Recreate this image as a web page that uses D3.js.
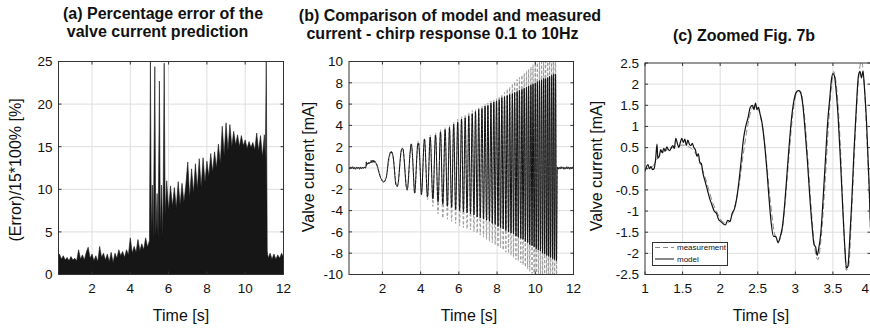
<!DOCTYPE html>
<html><head><meta charset="utf-8">
<script src="https://cdn.jsdelivr.net/npm/d3@7"></script>
<style>body{margin:0;background:#fff}svg{display:block;font-family:"Liberation Sans",Arial,Helvetica,sans-serif}</style>
</head><body><svg id="chart" width="870" height="330"></svg>
<script>
// ---------- Panel (a): percentage error ----------
const errTime = [
0.25,0.3,0.4,0.5,0.6,0.7,0.8,0.9,1.0,1.1,
1.2,1.3,1.4,1.5,1.6,1.7,1.8,1.9,2.0,2.1,
2.2,2.3,2.4,2.5,2.6,2.7,2.8,2.9,3.0,3.1,
3.2,3.3,3.4,3.5,3.6,3.7,3.8,3.9,4.0,4.1,
4.2,4.3,4.4,4.5,4.6,4.7,4.8,4.9,5.0,5.05,
5.1,5.15,5.2,5.28,5.33,5.4,5.45,5.52,5.57,5.63,
5.7,5.77,5.82,5.9,6.0,6.1,6.2,6.3,6.4,6.5,
6.6,6.7,6.8,6.9,7.0,7.1,7.2,7.3,7.4,7.5,
7.6,7.7,7.8,7.9,8.0,8.1,8.2,8.3,8.4,8.5,
8.6,8.7,8.8,8.9,9.0,9.1,9.2,9.3,9.4,9.5,
9.6,9.7,9.8,9.9,10.0,10.1,10.2,10.3,10.4,10.5,
10.6,10.7,10.8,10.9,11.0,11.05,11.1,11.15,11.2,11.3,
11.4,11.5,11.6,11.7,11.8,11.9,12.0];
const errPct = [
2.2,2.4,1.8,2.2,1.7,2.0,1.6,2.1,1.7,1.9,
1.6,2.9,1.8,2.3,1.7,2.6,3.2,1.9,2.4,1.6,
2.2,1.5,3.3,2.0,2.5,1.7,2.4,1.5,2.6,1.4,
2.5,1.9,2.9,2.2,2.7,2.0,2.9,2.3,4.3,2.5,
3.3,2.6,4.1,2.8,3.6,2.9,4.3,3.2,4.0,25,
4.5,10.5,4.0,24.4,4.5,9.5,4.2,22.7,5.0,10.5,
4.5,24.8,7.0,11.0,7.5,10.4,8.0,10.2,7.8,10.9,
8.2,10.7,8.5,10.5,13.2,9.0,12.4,9.5,13.0,10.0,
13.6,10.2,13.7,10.8,13.3,11.5,14.2,12.0,14.4,12.5,
15.3,13.0,17.4,14.0,17.8,14.5,17.6,15.0,16.8,15.2,
16.4,15.0,16.3,15.1,15.8,14.8,15.6,14.9,15.5,14.6,
16.6,14.5,16.3,13.8,16.4,13.5,25,2.8,1.9,2.5,
1.8,2.4,1.8,2.3,1.9,2.5,2.0];

// ---------- Panels (b), (c): valve current ----------
// flat part before the chirp
const baseTime = [0.25,0.3,0.35,0.4,0.45,0.5,0.55,0.6,0.65,0.7,0.75,0.8,0.85,0.9,0.95];
const baseModel = [0.05,-0.1,0.1,-0.05,0.12,-0.1,0.05,-0.12,0.1,-0.05,0.08,-0.12,0.1,-0.08,0.06];
const baseMeas = [0.03,-0.04,0.04,-0.03,0.05,-0.04,0.03,-0.05,0.04,-0.03,0.04,-0.05,0.04,-0.03,0.02];
// detailed model trace 1-4 s
const zoomTime = [
1.00,1.02,1.04,1.06,1.08,1.10,1.12,1.14,1.16,1.17,
1.19,1.21,1.23,1.25,1.27,1.29,1.31,1.33,1.35,1.37,
1.39,1.41,1.43,1.45,1.47,1.49,1.51,1.53,1.55,1.57,
1.59,1.61,1.63,1.65,1.67,1.69,1.71,1.73,1.75,1.77,
1.80,1.83,1.86,1.89,1.92,1.95,1.98,2.01,2.04,2.07,
2.10,2.13,2.16,2.19,2.22,2.25,2.28,2.31,2.34,2.37,
2.40,2.43,2.45,2.47,2.49,2.51,2.53,2.56,2.59,2.62,
2.65,2.68,2.71,2.74,2.77,2.80,2.83,2.86,2.89,2.92,
2.95,2.98,3.01,3.04,3.07,3.10,3.13,3.16,3.19,3.22,
3.25,3.27,3.29,3.31,3.34,3.37,3.40,3.43,3.46,3.48,
3.50,3.52,3.54,3.57,3.60,3.63,3.66,3.68,3.70,3.72,
3.75,3.78,3.81,3.84,3.86,3.88,3.90,3.92,3.95,3.98,
4.00];
const zoomModel = [
-0.05,0.05,0.1,0.0,0.05,-0.02,0.0,0.2,0.58,0.25,
0.3,0.45,0.38,0.48,0.42,0.52,0.45,0.43,0.5,0.55,
0.48,0.72,0.6,0.5,0.62,0.72,0.62,0.7,0.55,0.68,
0.58,0.55,0.6,0.5,0.45,0.3,0.35,0.15,0.12,-0.1,
-0.3,-0.5,-0.7,-0.85,-1.0,-1.05,-1.2,-1.25,-1.3,-1.33,
-1.22,-1.25,-1.05,-0.95,-0.7,-0.3,0.2,0.7,1.0,1.2,
1.45,1.5,1.4,1.55,1.4,1.45,1.3,1.05,0.6,0.0,
-0.7,-1.3,-1.6,-1.6,-1.75,-1.6,-1.35,-0.8,-0.1,0.6,
1.2,1.6,1.8,1.85,1.8,1.5,0.9,0.2,-0.6,-1.3,
-1.8,-1.85,-2.05,-1.9,-1.5,-0.7,0.2,1.1,1.7,2.1,
2.25,2.2,1.9,1.2,0.2,-0.9,-1.9,-2.35,-2.3,-1.8,
-0.8,0.4,1.4,2.2,2.3,2.15,2.3,1.9,1.0,-0.3,
-1.4];
// detailed measurement trace 1-4 s
const measZoomTime = [
1.00,1.05,1.10,1.15,1.20,1.25,1.30,1.40,1.50,1.60,
1.65,1.70,1.75,1.80,1.85,1.90,1.95,2.00,2.05,2.10,
2.15,2.20,2.25,2.30,2.35,2.40,2.46,2.52,2.57,2.62,
2.67,2.72,2.77,2.82,2.87,2.92,2.97,3.02,3.06,3.11,
3.16,3.21,3.26,3.30,3.34,3.39,3.44,3.48,3.51,3.55,
3.60,3.64,3.68,3.71,3.75,3.80,3.84,3.88,3.92,3.96,
4.00];
const measZoomValue = [
0.0,0.02,0.05,0.2,0.32,0.4,0.45,0.52,0.56,0.5,
0.42,0.28,0.05,-0.2,-0.5,-0.8,-1.0,-1.18,-1.27,-1.28,
-1.15,-0.85,-0.4,0.25,0.85,1.3,1.5,1.35,0.9,0.1,
-0.8,-1.5,-1.72,-1.5,-0.7,0.4,1.35,1.8,1.85,1.45,
0.4,-0.9,-1.9,-2.15,-1.7,-0.5,1.0,1.95,2.3,1.9,
0.5,-1.2,-2.4,-2.3,-1.0,0.9,2.1,2.55,1.9,0.4,
-1.3];
const peakTime = [
4.04,4.20,4.36,4.50,4.64,4.78,4.91,5.04,5.16,5.28,
5.40,5.51,5.62,5.73,5.83,5.94,6.04,6.14,6.24,6.33,
6.43,6.52,6.61,6.70,6.79,6.87,6.96,7.04,7.12,7.21,
7.29,7.37,7.45,7.52,7.60,7.68,7.75,7.83,7.90,7.97,
8.05,8.11,8.18,8.25,8.32,8.39,8.46,8.53,8.60,8.66,
8.73,8.80,8.86,8.92,8.99,9.05,9.11,9.17,9.24,9.30,
9.36,9.42,9.48,9.54,9.60,9.65,9.71,9.77,9.83,9.88,
9.94,10.00,10.05,10.11,10.16,10.22,10.27,10.33,10.38,10.44,
10.49,10.54,10.60,10.65,10.70,10.75,10.80,10.86,10.91,10.96,
11.01,11.06,11.11];
const peakModel = [
-2.5,2.7,-2.7,2.9,-2.9,3.1,-3.2,3.4,-3.4,3.6,
-3.6,3.8,-3.7,4.1,-3.9,4.3,-4.0,4.6,-4.1,4.7,
-4.2,4.9,-4.3,5.1,-4.4,5.3,-4.6,5.5,-4.7,5.6,
-4.8,5.8,-4.9,5.9,-5.0,6.1,-5.2,6.2,-5.3,6.3,
-5.5,6.4,-5.6,6.6,-5.7,6.7,-5.9,6.8,-6.0,6.9,
-6.1,7.0,-6.2,7.1,-6.4,7.2,-6.5,7.3,-6.6,7.4,
-6.7,7.5,-6.9,7.6,-7.0,7.7,-7.2,7.8,-7.3,7.9,
-7.4,8.0,-7.6,8.1,-7.7,8.2,-7.8,8.3,-8.0,8.4,
-8.1,8.4,-8.2,8.5,-8.3,8.6,-8.4,8.7,-8.5,8.8,
-8.6,8.8,-8.7];
const peakMeas = [
-2.5,2.8,-3.0,3.1,-3.6,3.3,-4.3,3.6,-4.7,3.8,
-4.8,4.0,-5.0,4.3,-5.2,4.6,-5.4,4.8,-5.6,5.0,
-5.7,5.2,-5.8,5.4,-6.0,5.5,-6.1,5.7,-6.3,5.8,
-6.5,6.0,-6.7,6.1,-6.9,6.3,-7.0,6.4,-7.2,6.5,
-7.4,6.7,-7.5,6.9,-7.7,7.1,-7.9,7.4,-8.0,7.6,
-8.2,7.9,-8.4,8.1,-8.6,8.3,-8.7,8.5,-8.9,8.7,
-9.1,8.9,-9.3,9.1,-9.5,9.3,-9.7,9.5,-9.9,9.7,
-10.1,9.9,-10.3,10.1,-10.4,10.3,-10.6,10.4,-10.8,10.6,
-10.9,10.7,-11.0,10.9,-11.1,11.0,-11.2,11.1,-11.3,11.2,
-11.4,11.3,-11.4];
// flat part after the chirp
const tailTime = [11.15,11.2,11.25,11.3,11.35,11.4,11.45,11.5,11.55,11.6,11.65,11.7,11.75,11.8,11.85,11.9,11.95,12.0];
const tailModel = [0.1,-0.12,0.08,-0.1,0.12,-0.06,0.1,-0.12,0.06,-0.1,0.12,-0.08,0.1,-0.12,0.08,-0.1,0.1,-0.06];
const tailMeas = [0.04,-0.05,0.03,-0.04,0.05,-0.03,0.04,-0.05,0.03,-0.04,0.05,-0.03,0.04,-0.05,0.03,-0.04,0.04,-0.03];

// tick values
const timeTicks = [2,4,6,8,10,12];
const errTicks = [0,5,10,15,20,25];
const currentTicks = [-10,-8,-6,-4,-2,0,2,4,6,8,10];
const zoomTimeTicks = [1,1.5,2,2.5,3,3.5,4];
const zoomCurrentTicks = [-2.5,-2,-1.5,-1,-0.5,0,0.5,1,1.5,2,2.5];

// ---------- build series ----------
const zip = (ts, vs) => ts.map((t, i) => ({t, v: vs[i]}));
const errSeries = zip(errTime, errPct);
const modelSeries = [].concat(zip(baseTime, baseModel), zip(zoomTime, zoomModel), zip(peakTime, peakModel), zip(tailTime, tailModel));
const measSeries = [].concat(zip(baseTime, baseMeas), zip(measZoomTime, measZoomValue), zip(peakTime, peakMeas), zip(tailTime, tailMeas));

const W = 870;
const svg = d3.select("#chart");
const GRID = "#dedede", FRAME = "#333";

function panel(o) {
  const x = d3.scaleLinear().domain(o.xd).range([o.left, o.right]);
  const y = d3.scaleLinear().domain(o.yd).range([o.bottom, o.top]);
  const g = svg.append("g");
  // grid
  g.selectAll(".gx").data(o.xt.filter(d => d > o.xd[0] && d < o.xd[1])).enter().append("line")
    .attr("x1", d => x(d)).attr("x2", d => x(d)).attr("y1", o.top).attr("y2", o.bottom)
    .attr("stroke", GRID).attr("stroke-width", 1);
  g.selectAll(".gy").data(o.yt.filter(d => d > o.yd[0] && d < o.yd[1])).enter().append("line")
    .attr("y1", d => y(d)).attr("y2", d => y(d)).attr("x1", o.left).attr("x2", o.right)
    .attr("stroke", GRID).attr("stroke-width", 1);
  // clip
  svg.append("clipPath").attr("id", o.id).append("rect")
    .attr("x", o.left).attr("y", o.top).attr("width", o.right - o.left).attr("height", o.bottom - o.top);
  const data = g.append("g").attr("clip-path", `url(#${o.id})`);
  o.draw(data, x, y);
  // frame
  g.append("rect").attr("x", o.left).attr("y", o.top).attr("width", o.right - o.left).attr("height", o.bottom - o.top)
    .attr("fill", "none").attr("stroke", FRAME).attr("stroke-width", 1);
  // inward ticks
  const tl = 3;
  o.xt.forEach(d => {
    g.append("line").attr("x1", x(d)).attr("x2", x(d)).attr("y1", o.bottom).attr("y2", o.bottom - tl).attr("stroke", FRAME);
    g.append("line").attr("x1", x(d)).attr("x2", x(d)).attr("y1", o.top).attr("y2", o.top + tl).attr("stroke", FRAME);
  });
  o.yt.forEach(d => {
    g.append("line").attr("y1", y(d)).attr("y2", y(d)).attr("x1", o.left).attr("x2", o.left + tl).attr("stroke", FRAME);
    g.append("line").attr("y1", y(d)).attr("y2", y(d)).attr("x1", o.right).attr("x2", o.right - tl).attr("stroke", FRAME);
  });
  // tick labels (a label that would run past the page edge is right-aligned to it)
  g.selectAll(".xl").data(o.xt).enter().append("text")
    .attr("x", d => x(d) + 5 > W ? W - 1 : x(d))
    .attr("text-anchor", d => x(d) + 5 > W ? "end" : "middle")
    .attr("y", 293).attr("font-size", 13.5).attr("fill", "#111").text(d => String(d));
  g.selectAll(".yl").data(o.yt).enter().append("text")
    .attr("x", o.left - 6).attr("y", d => y(d) + 4.8).attr("text-anchor", "end")
    .attr("font-size", 13.5).attr("fill", "#111").text(d => String(d));
  // axis labels
  g.append("text").attr("x", o.xlabX).attr("y", 321).attr("text-anchor", "middle")
    .attr("font-size", 16).attr("fill", "#111").text("Time [s]");
  g.append("text").attr("transform", `translate(${o.ylabX},${o.ylabY}) rotate(-90)`)
    .attr("text-anchor", "middle").attr("font-size", 16).attr("fill", "#111").text(o.ylab);
  // title
  o.title.forEach(ln => {
    g.append("text").attr("x", ln.x).attr("y", ln.y).attr("text-anchor", "middle")
      .attr("font-size", 16).attr("font-weight", "bold").attr("fill", "#111").text(ln.s);
  });
  return {x, y, g};
}

// (a)
panel({
  id: "clipA", left: 58.5, right: 283.5, top: 61.5, bottom: 274.5,
  xd: [0.25, 12], yd: [0, 25], xt: timeTicks, yt: errTicks,
  xlabX: 181, ylabX: 20.5, ylabY: 170, ylab: "(Error)/15*100% [%]",
  title: [{s: "(a) Percentage error of the", x: 163, y: 18.5}, {s: "valve current prediction", x: 157.5, y: 36.5}],
  draw: (g, x, y) => {
    g.append("path").datum(errSeries)
      .attr("d", d3.area().x(d => x(d.t)).y0(y(0)).y1(d => y(d.v)))
      .attr("fill", "#161616").attr("stroke", "#161616").attr("stroke-width", 0.6);
  }
});

// (b)
const lineB = (x, y) => d3.line().x(d => x(d.t)).y(d => y(d.v)).curve(d3.curveMonotoneX);
panel({
  id: "clipB", left: 349, right: 573.5, top: 61.5, bottom: 274.5,
  xd: [0.25, 12], yd: [-10, 10], xt: timeTicks, yt: currentTicks,
  xlabX: 469, ylabX: 313.5, ylabY: 167, ylab: "Valve current [mA]",
  title: [{s: "(b) Comparison of model and measured", x: 450, y: 21}, {s: "current - chirp response 0.1 to 10Hz", x: 442.5, y: 38.5}],
  draw: (g, x, y) => {
    g.append("path").datum(measSeries).attr("d", lineB(x, y))
      .attr("fill", "none").attr("stroke", "#999").attr("stroke-width", 1).attr("stroke-dasharray", "3,2");
    g.append("path").datum(modelSeries).attr("d", lineB(x, y))
      .attr("fill", "none").attr("stroke", "#111").attr("stroke-width", 1);
  }
});

// (c)
panel({
  id: "clipC", left: 645, right: 870.5, top: 63, bottom: 274.5,
  xd: [1, 4], yd: [-2.5, 2.5], xt: zoomTimeTicks, yt: zoomCurrentTicks,
  xlabX: 761, ylabX: 602, ylabY: 166, ylab: "Valve current [mA]",
  title: [{s: "(c) Zoomed Fig. 7b", x: 744, y: 40.5}],
  draw: (g, x, y) => {
    g.append("path").datum(measSeries).attr("d", lineB(x, y))
      .attr("fill", "none").attr("stroke", "#8a8a8a").attr("stroke-width", 1).attr("stroke-dasharray", "6,3");
    g.append("path").datum(modelSeries).attr("d", lineB(x, y))
      .attr("fill", "none").attr("stroke", "#111").attr("stroke-width", 1.2);
  }
});

// legend for (c)
const lg = svg.append("g");
lg.append("rect").attr("x", 652.5).attr("y", 242.5).attr("width", 75).attr("height", 23)
  .attr("fill", "#fff").attr("stroke", "#333").attr("stroke-width", 1);
const legendItems = [
  {label: "measurement", color: "#8a8a8a", dash: "5,3", y: 247.5},
  {label: "model", color: "#111", dash: null, y: 259}
];
legendItems.forEach(it => {
  lg.append("line").attr("x1", 655).attr("x2", 674).attr("y1", it.y).attr("y2", it.y)
    .attr("stroke", it.color).attr("stroke-width", 1).attr("stroke-dasharray", it.dash);
  lg.append("text").attr("x", 677).attr("y", it.y + 2.8).attr("font-size", 8).attr("fill", "#111").text(it.label);
});
</script>
</body></html>
